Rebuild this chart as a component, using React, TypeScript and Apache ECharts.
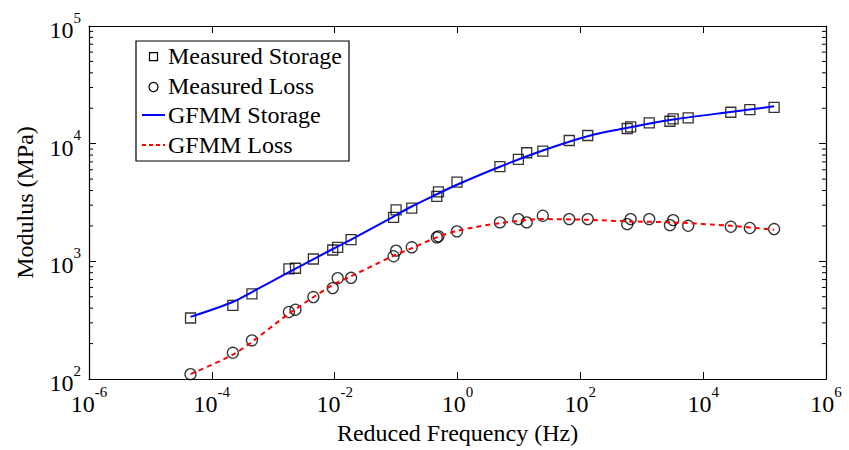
import React, { useEffect, useRef } from "react";
import * as echarts from "echarts";

// Measured data (reduced frequency in Hz, modulus in MPa)
const freq = [4.5e-5, 2.2e-4, 4.5e-4, 1.8e-3, 2.3e-3, 4.5e-3, 9.3e-3, 0.0112, 0.0185, 0.091, 0.1, 0.18, 0.46, 0.49, 0.98, 4.9, 9.8, 13.4, 24.5, 66, 132, 580, 660, 1325, 2875, 3250, 5700, 28200, 57500, 143000];
const storage = [330, 422, 530, 863, 873, 1047, 1248, 1315, 1527, 2360, 2735, 2830, 3560, 3890, 4720, 6370, 7350, 8370, 8650, 10640, 11730, 13450, 13900, 15030, 15500, 16250, 16560, 18500, 19470, 20380];
const loss = [110, 167, 213, 371, 388, 497, 592, 719, 724, 1105, 1233, 1316, 1600, 1630, 1798, 2142, 2285, 2142, 2440, 2285, 2285, 2070, 2285, 2285, 2030, 2240, 2005, 1967, 1920, 1880];

// GFMM fitted curves
const fitFreq = [4.5e-5, 2.2e-4, 4.5e-4, 1.8e-3, 9.3e-3, 0.0185, 0.091, 0.18, 0.46, 1, 4.9, 24.5, 132, 660, 3250, 28200, 143000];
const fitStorage = [337, 451, 548, 809, 1273, 1527, 2404, 2925, 3715, 4500, 6370, 8750, 11570, 13800, 16030, 18620, 20750];
const fitLoss = [110, 161, 207, 359, 631, 747, 1117, 1291, 1600, 1820, 2113, 2285, 2254, 2183, 2142, 2005, 1854];

// Axis ranges and minor tick values
const xRange = [1e-6, 1e6];
const yRange = [1e2, 1e5];
const yMinorTicks = [200, 300, 400, 500, 600, 700, 800, 900, 2000, 3000, 4000, 5000, 6000, 7000, 8000, 9000, 20000, 30000, 40000, 50000, 60000, 70000, 80000, 90000];

const legendLabels = ["Measured Storage", "Measured Loss", "GFMM Storage", "GFMM Loss"];
const xTitle = "Reduced Frequency (Hz)";
const yTitle = "Modulus (MPa)";

const FONT = "'Liberation Serif', 'Times New Roman', serif";

const expFormatter = (v: number) => {
  const e = Math.round(Math.log10(v));
  return `{b|10}{s|${e}}`;
};

const richLabel = {
  b: { fontSize: 24, fontFamily: FONT, color: "#000", lineHeight: 32, verticalAlign: "bottom" },
  s: { fontSize: 15, fontFamily: FONT, color: "#000", lineHeight: 32, verticalAlign: "top" },
};

export default function App() {
  const ref = useRef<HTMLDivElement>(null);

  useEffect(() => {
    if (!ref.current) return;
    const chart = echarts.init(ref.current, null, { renderer: "svg" });

    const axisLine = { show: true, lineStyle: { color: "#000", width: 1.2 } };
    const majorTick = { show: true, inside: true, length: 7, lineStyle: { color: "#000", width: 1 } };

    const legendY = [56.2, 85.9, 115.2, 144.6];

    const option: any = {
      animation: false,
      backgroundColor: "#fff",
      grid: { left: 89, right: 23, top: 26, bottom: 69, containLabel: false },
      xAxis: [
        {
          type: "log",
          logBase: 10,
          min: xRange[0],
          max: xRange[1],
          interval: 2,
          position: "bottom",
          name: xTitle,
          nameLocation: "middle",
          nameGap: 42,
          nameTextStyle: { fontFamily: FONT, fontSize: 24, color: "#000" },
          axisLine,
          axisTick: majorTick,
          axisLabel: { formatter: expFormatter, rich: richLabel, margin: 5 },
          splitLine: { show: false },
          minorTick: { show: false },
        },
        {
          type: "log",
          logBase: 10,
          min: xRange[0],
          max: xRange[1],
          interval: 2,
          position: "top",
          axisLine,
          axisTick: majorTick,
          axisLabel: { show: false },
          splitLine: { show: false },
        },
      ],
      yAxis: [
        {
          type: "log",
          logBase: 10,
          min: yRange[0],
          max: yRange[1],
          interval: 1,
          position: "left",
          name: yTitle,
          nameLocation: "middle",
          nameGap: 52,
          nameTextStyle: { fontFamily: FONT, fontSize: 24, color: "#000" },
          axisLine,
          axisTick: majorTick,
          axisLabel: { formatter: expFormatter, rich: richLabel, margin: 8 },
          splitLine: { show: false },
        },
        {
          type: "log",
          logBase: 10,
          min: yRange[0],
          max: yRange[1],
          interval: 1,
          position: "right",
          axisLine,
          axisTick: majorTick,
          axisLabel: { show: false },
          splitLine: { show: false },
        },
      ],
      legend: { show: false },
      series: [
        {
          type: "custom",
          silent: true,
          clip: false,
          xAxisIndex: 0,
          yAxisIndex: 0,
          data: yMinorTicks.map((v) => [xRange[0], v]),
          renderItem: (_params: any, api: any) => {
            const v = api.value(1);
            const l = api.coord([xRange[0], v]);
            const r = api.coord([xRange[1], v]);
            return {
              type: "group",
              children: [
                { type: "line", shape: { x1: l[0], y1: l[1], x2: l[0] + 4, y2: l[1] }, style: { stroke: "#000", lineWidth: 1 } },
                { type: "line", shape: { x1: r[0] - 4, y1: r[1], x2: r[0], y2: r[1] }, style: { stroke: "#000", lineWidth: 1 } },
              ],
            };
          },
        },
        {
          name: legendLabels[0],
          type: "scatter",
          symbol: "rect",
          symbolSize: 10,
          data: freq.map((f, i) => [f, storage[i]]),
          itemStyle: { color: "rgba(0,0,0,0)", borderColor: "#000", borderWidth: 1.3 },
          z: 3,
        },
        {
          name: legendLabels[1],
          type: "scatter",
          symbol: "circle",
          symbolSize: 11,
          data: freq.map((f, i) => [f, loss[i]]),
          itemStyle: { color: "rgba(0,0,0,0)", borderColor: "#000", borderWidth: 1.3 },
          z: 3,
        },
        {
          name: legendLabels[2],
          type: "line",
          smooth: 0.3,
          showSymbol: false,
          symbol: "none",
          data: fitFreq.map((f, i) => [f, fitStorage[i]]),
          lineStyle: { color: "#0000ff", width: 2 },
          z: 4,
        },
        {
          name: legendLabels[3],
          type: "line",
          smooth: 0.3,
          showSymbol: false,
          symbol: "none",
          data: fitFreq.map((f, i) => [f, fitLoss[i]]),
          lineStyle: { color: "#ff0000", width: 2, type: [5, 4] },
          z: 4,
        },
      ],
      graphic: [
        {
          type: "group",
          z: 100,
          children: [
            { type: "rect", shape: { x: 136, y: 41, width: 213, height: 120 }, style: { fill: "#fff", stroke: "#000", lineWidth: 1.2 } },
            { type: "rect", shape: { x: 149.5, y: 52.7, width: 8, height: 8 }, style: { fill: "none", stroke: "#000", lineWidth: 1.2 } },
            { type: "circle", shape: { cx: 153.5, cy: 87, r: 4.5 }, style: { fill: "none", stroke: "#000", lineWidth: 1.2 } },
            { type: "line", shape: { x1: 142, y1: 115, x2: 165, y2: 115 }, style: { stroke: "#0000ff", lineWidth: 2 } },
            { type: "line", shape: { x1: 142, y1: 145, x2: 165, y2: 145 }, style: { stroke: "#ff0000", lineWidth: 2, lineDash: [4, 3] } },
            ...legendLabels.map((t, i) => ({
              type: "text",
              x: 168,
              y: legendY[i],
              style: { text: t, fontFamily: FONT, fontSize: 24, fill: "#000", align: "left", verticalAlign: "middle" },
            })),
          ],
        },
      ],
    };

    chart.setOption(option);
    return () => chart.dispose();
  }, []);

  return <div ref={ref} style={{ position: "absolute", left: 0, top: 0, width: 849, height: 450 }} />;
}
